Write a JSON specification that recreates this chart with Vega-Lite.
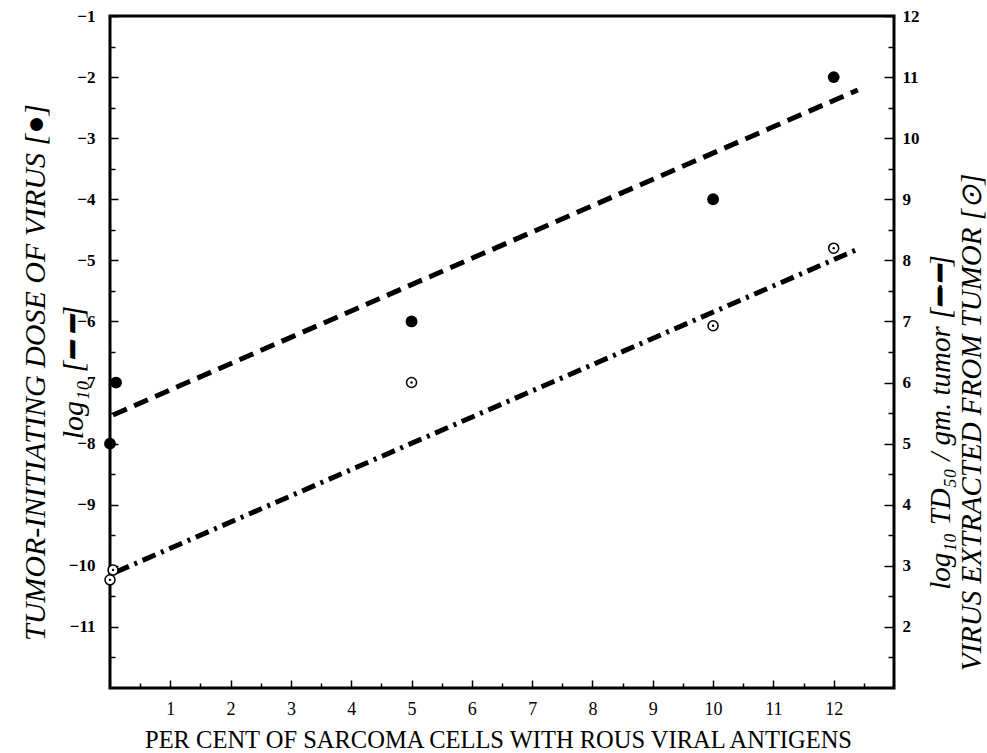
{
  "$schema": "https://vega.github.io/schema/vega-lite/v6.json",
  "width": 784,
  "height": 672,
  "autosize": "none",
  "padding": {"left": 110, "top": 16, "right": 93, "bottom": 65},
  "background": "white",
  "config": {
    "view": {"stroke": "black", "strokeWidth": 3},
    "axis": {
      "domain": false,
      "grid": false,
      "tickColor": "black",
      "tickWidth": 1.5,
      "labelColor": "black",
      "titleColor": "black",
      "labelFlush": false,
      "labelOverlap": false,
      "labelBound": false,
      "labelFont": "Liberation Serif",
      "labelFontWeight": "bold",
      "labelFontSize": 17,
      "titleFont": "Liberation Serif",
      "titleFontWeight": "normal"
    }
  },
  "datasets": {
    "filled": [
      {"x": 0, "y": -8},
      {"x": 0.1, "y": -7},
      {"x": 5, "y": -6},
      {"x": 10, "y": -4},
      {"x": 12, "y": -2}
    ],
    "open": [
      {"x": 0, "y": 2.77},
      {"x": 0.05, "y": 2.93},
      {"x": 5, "y": 6.0},
      {"x": 10, "y": 6.93},
      {"x": 12, "y": 8.2}
    ],
    "dashLine": [
      {"x": 0.05, "y": -7.53},
      {"x": 12.4, "y": -2.21}
    ],
    "dashDotLine": [
      {"x": 0.1, "y": 2.9},
      {"x": 12.44, "y": 8.2}
    ]
  },
  "encoding": {
    "x": {
      "field": "x",
      "type": "quantitative",
      "scale": {"domain": [0, 13], "nice": false, "zero": false},
      "axis": {
        "orient": "bottom",
        "values": [0.5, 1, 1.5, 2, 2.5, 3, 3.5, 4, 4.5, 5, 5.5, 6, 6.5, 7, 7.5, 8, 8.5, 9, 9.5, 10, 10.5, 11, 11.5, 12, 12.5],
        "labelExpr": "datum.value % 1 === 0 ? format(datum.value, 'd') : ''",
        "tickSize": {"condition": {"test": "datum.value % 1 === 0", "value": -8}, "value": -5},
        "labelPadding": 20,
        "labelFontWeight": "normal",
        "labelFontSize": 18,
        "title": "PER CENT OF SARCOMA CELLS WITH ROUS VIRAL ANTIGENS",
        "titleFontSize": 24.5,
        "titleBaseline": "alphabetic",
        "titleY": 59,
        "titleX": 388
      }
    }
  },
  "layer": [
    {
      "encoding": {
        "y": {
          "field": "y",
          "type": "quantitative",
          "scale": {"domain": [-12, -1], "nice": false, "zero": false},
          "axis": {
            "orient": "left",
            "values": [-11.5, -11, -10.5, -10, -9.5, -9, -8.5, -8, -7.5, -7, -6.5, -6, -5.5, -5, -4.5, -4, -3.5, -3, -2.5, -2, -1.5, -1],
            "labelExpr": "datum.value % 1 === 0 ? format(datum.value, 'd') : ''",
            "tickSize": {"condition": {"test": "datum.value % 1 === 0", "value": -8}, "value": -5},
            "labelPadding": 23,
            "title": ["TUMOR-INITIATING DOSE OF VIRUS [●]", "log₁₀ [━ ━]"],
            "titleFontStyle": "italic",
            "titleFontSize": 30,
            "titleAngle": -90,
            "titleAlign": "center",
            "titleBaseline": "middle",
            "titleLineHeight": 38,
            "titleX": -75,
            "titleY": 356
          }
        }
      },
      "layer": [
        {
          "data": {"name": "dashLine"},
          "mark": {"type": "line", "stroke": "black", "strokeWidth": 5, "strokeDash": [15, 8], "strokeCap": "butt"}
        },
        {
          "data": {"name": "filled"},
          "mark": {"type": "point", "shape": "circle", "filled": true, "color": "black", "size": 140, "opacity": 1}
        }
      ]
    },
    {
      "encoding": {
        "y": {
          "field": "y",
          "type": "quantitative",
          "scale": {"domain": [1, 12], "nice": false, "zero": false},
          "axis": {
            "orient": "right",
            "values": [1.5, 2, 2.5, 3, 3.5, 4, 4.5, 5, 5.5, 6, 6.5, 7, 7.5, 8, 8.5, 9, 9.5, 10, 10.5, 11, 11.5, 12],
            "labelExpr": "datum.value % 1 === 0 ? format(datum.value, 'd') : ''",
            "tickSize": {"condition": {"test": "datum.value % 1 === 0", "value": -10}, "value": -6},
            "labelPadding": 18,
            "title": ["log₁₀ TD₅₀ / gm. tumor [━·━]", "VIRUS EXTRACTED FROM TUMOR [⊙]"],
            "titleFontStyle": "italic",
            "titleFontSize": 29,
            "titleAngle": -90,
            "titleAlign": "center",
            "titleBaseline": "middle",
            "titleLineHeight": 31,
            "titleX": 46,
            "titleY": 406
          }
        }
      },
      "layer": [
        {
          "data": {"name": "dashDotLine"},
          "mark": {"type": "line", "stroke": "black", "strokeWidth": 5, "strokeDash": [14, 6, 3, 6], "strokeCap": "butt"}
        },
        {
          "data": {"name": "open"},
          "mark": {"type": "point", "shape": "circle", "filled": true, "fill": "white", "stroke": "black", "strokeWidth": 1.5, "size": 100, "opacity": 1}
        },
        {
          "data": {"name": "open"},
          "mark": {"type": "point", "shape": "circle", "filled": true, "color": "black", "size": 6, "opacity": 1}
        }
      ]
    }
  ],
  "resolve": {"scale": {"y": "independent"}}
}
